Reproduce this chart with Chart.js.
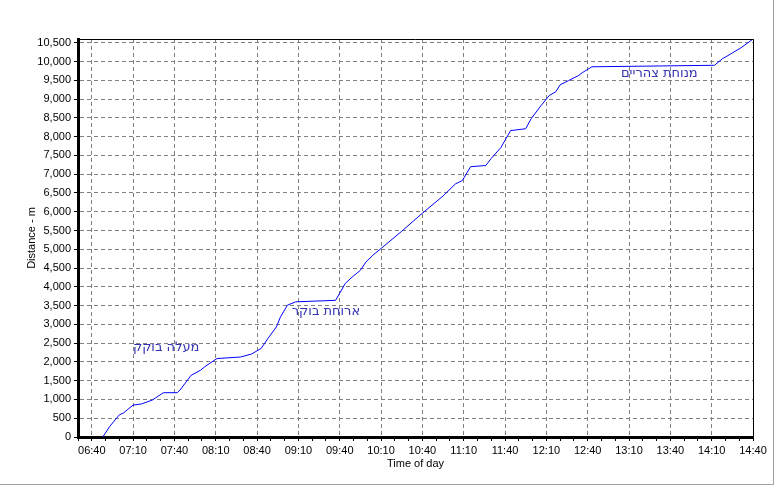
<!DOCTYPE html>
<html>
<head>
<meta charset="utf-8">
<script src="https://cdn.jsdelivr.net/npm/chart.js@4/dist/chart.umd.min.js"></script>
<style>
  html, body { margin: 0; padding: 0; background: #ffffff; }
  #wrap { width: 775px; height: 486px; position: relative; }
</style>
</head>
<body>
<div id="wrap"><canvas id="c" width="775" height="486"></canvas></div>
<script>
// ---- data ----
const times = ["06:48","06:53","07:00","07:03","07:07","07:10","07:16","07:24","07:32","07:42","07:44","07:49","07:52","07:59","08:02","08:08","08:11","08:28","08:36","08:43","08:48","08:54","08:57","09:02","09:08","09:37","09:40","09:44","09:49","09:55","09:59","10:04","10:10","10:25","10:40","10:55","11:04","11:09","11:15","11:26","11:30","11:37","11:44","11:55","11:59","12:06","12:12","12:17","12:20","12:26","12:33","12:36","12:43","14:12","14:18","14:21","14:25","14:31","14:36","14:40"];
const distances = [0,280,590,640,760,850,880,985,1180,1180,1250,1490,1640,1780,1870,2020,2090,2130,2210,2360,2630,2930,3200,3510,3600,3640,3830,4090,4260,4440,4660,4840,5020,5480,5960,6420,6740,6830,7200,7230,7420,7710,8160,8210,8480,8820,9090,9200,9380,9490,9620,9700,9860,9900,10080,10140,10230,10360,10490,10600];
const annotationTexts = ["מעלה בוקק","ארוחת בוקר","מנוחת צהריים"];
const annotationTimes = ["07:34","09:30","13:32"];
const annotationValues = [2370,3350,9680];
const yTickValues = [0,500,1000,1500,2000,2500,3000,3500,4000,4500,5000,5500,6000,6500,7000,7500,8000,8500,9000,9500,10000,10500];
const xTitle = "Time of day";
const yTitle = "Distance - m";
const xMinTime = "06:30", xMaxTime = "14:40";
const yMax = 10600;

const toMin = s => { const [h,m] = s.split(":").map(Number); return h*60+m; };
const fmt = v => { const h = Math.floor(v/60), m = Math.round(v%60); return String(h).padStart(2,"0")+":"+String(m).padStart(2,"0"); };
const xMin = toMin(xMinTime), xMax = toMin(xMaxTime);
const labeled = v => ((v - toMin("06:40")) % 30 + 30) % 30 === 0;

const pts = times.map((t,i) => ({x: toMin(t), y: distances[i]}));

const framePlugin = {
  id: 'frame',
  afterDraw(chart) {
    const {ctx, chartArea: a, scales} = chart;
    ctx.save();
    ctx.strokeStyle = '#000'; ctx.lineWidth = 1;
    ctx.beginPath();
    ctx.moveTo(a.left, a.top + 0.5); ctx.lineTo(a.right + 0.5, a.top + 0.5);
    ctx.lineTo(a.right + 0.5, a.bottom);
    ctx.stroke();
    ctx.fillStyle = '#3333b3';
    ctx.font = '13px "DejaVu Sans", sans-serif';
    ctx.textAlign = 'center'; ctx.textBaseline = 'middle';
    ctx.direction = 'rtl';
    annotationTexts.forEach((t,i) => {
      const x = scales.x.getPixelForValue(toMin(annotationTimes[i]));
      const y = scales.y.getPixelForValue(annotationValues[i]);
      ctx.fillText(t, x, y);
    });
    ctx.strokeStyle = '#a0a0a0';
    ctx.beginPath();
    ctx.moveTo(773.5, 0); ctx.lineTo(773.5, 484.5); ctx.lineTo(0, 484.5);
    ctx.stroke();
    ctx.restore();
  }
};

const font = {family: '"Liberation Sans", Arial, sans-serif', size: 11};

new Chart(document.getElementById('c'), {
  type: 'line',
  data: { datasets: [{ data: pts, borderColor: '#0000ff', borderWidth: 1, pointRadius: 0, tension: 0, fill: false }] },
  options: {
    responsive: false, animation: false, devicePixelRatio: 1,
    layout: { padding: { left: 0, top: 39, right: 22, bottom: 0 } },
    plugins: { legend: {display: false}, tooltip: {enabled: false} },
    scales: {
      x: {
        type: 'linear', min: xMin, max: xMax,
        afterFit: s => { s.height = 49; },
        ticks: { stepSize: 10, maxTicksLimit: 1000, autoSkip: false, maxRotation: 0, color: '#000', font, padding: 3,
                 callback: v => labeled(v) ? fmt(v) : '' },
        grid: { color: c => labeled(c.tick.value) && c.tick.value !== xMin ? '#808080' : 'rgba(0,0,0,0)',
                tickColor: '#000', tickLength: 4, lineWidth: 1 },
        border: { display: true, color: '#000', width: 3, dash: [4,3] },
        title: { display: true, text: xTitle, color: '#000', font, padding: {top: 0, bottom: 15} }
      },
      y: {
        type: 'linear', min: 0, max: yMax,
        afterBuildTicks: s => { s.ticks = yTickValues.map(v => ({value: v})); },
        afterFit: s => { s.width = 78; },
        ticks: { autoSkip: false, color: '#000', font, padding: 3,
                 callback: v => v.toLocaleString('en-US') },
        grid: { color: c => c.tick.value === 0 ? 'rgba(0,0,0,0)' : '#808080',
                tickColor: '#000', tickLength: 4, lineWidth: 1 },
        border: { display: true, color: '#000', width: 3, dash: [4,3] },
        title: { display: true, text: yTitle, color: '#000', font, padding: {top: 25, bottom: 0} }
      }
    }
  },
  plugins: [framePlugin]
});
</script>
</body>
</html>
